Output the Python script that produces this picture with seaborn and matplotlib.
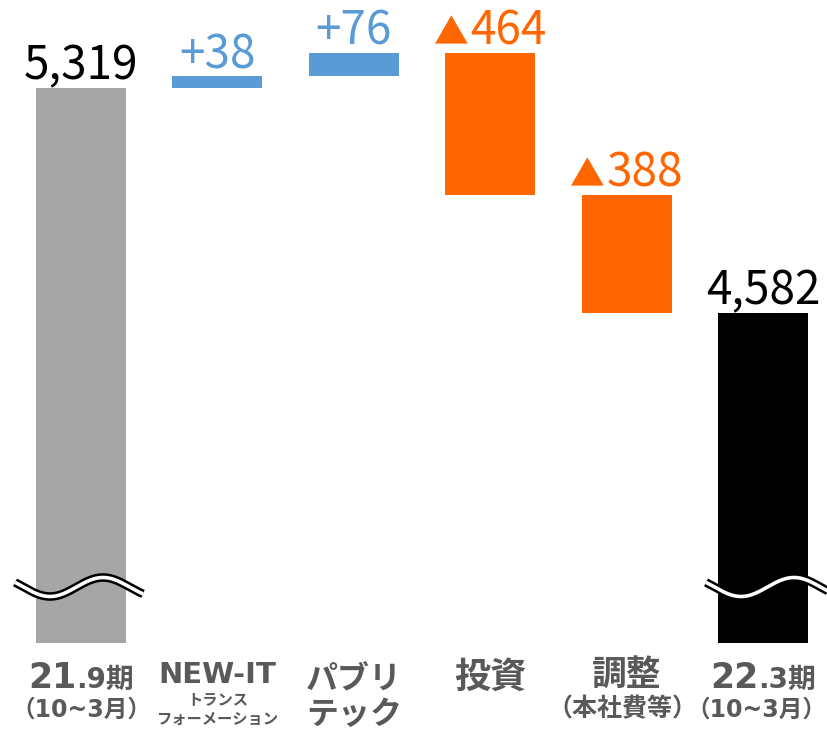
import numpy as np
import pandas as pd
import matplotlib
matplotlib.use("Agg")
import matplotlib.pyplot as plt
import seaborn as sns

# ---- data ----
categories = ["21.9期", "NEW-IT", "パブリテック", "投資", "調整", "22.3期"]
start_total = 5319
changes = [38, 76, -464, -388]
end_total = 4582
axis_base = 3500  # broken axis base

bar_colors = ["#A6A6A6", "#5B9BD5", "#5B9BD5", "#FF6600", "#FF6600", "#000000"]
label_colors = ["#000000", "#5B9BD5", "#5B9BD5", "#FF6600", "#FF6600", "#000000"]

# bottom tick labels: list of lines, each line list of (text, size)
tick_lines = [
    [[("21", 25), (".9期", 20)], [("（10~3月）", 17)]],
    [[("NEW-IT", 21)], [("トランス", 11)], [("フォーメーション", 11)]],
    [[("パブリ", 23)], [("テック", 23)]],
    [[("投資", 26)]],
    [[("調整", 25)], [("（本社費等）", 18)]],
    [[("22", 25), (".3期", 20)], [("（10~3月）", 17)]],
]
tick_baselines = [
    [688, 717],
    [683, 704, 724],
    [689, 724],
    [688],
    [685, 716],
    [688, 717],
]
tick_xshift = [
    [0, 0],
    [0, 0, 0],
    [0, 0],
    [0],
    [0, -4],
    [0, -7],
]

# ---- derived bars ----
bottoms, heights, tops, labels = [], [], [], []
bottoms.append(axis_base); heights.append(start_total - axis_base)
tops.append(start_total); labels.append(("", f"{start_total:,}"))
cum = start_total
for c in changes:
    if c >= 0:
        bottoms.append(cum); heights.append(c); tops.append(cum + c)
        labels.append(("", f"+{c}"))
    else:
        bottoms.append(cum + c); heights.append(-c); tops.append(cum)
        labels.append(("▲", f"{-c}"))
    cum += c
bottoms.append(axis_base); heights.append(end_total - axis_base)
tops.append(end_total); labels.append(("", f"{end_total:,}"))

df = pd.DataFrame({"cat": categories, "h": heights})

sns.set_theme(style="white")
plt.rcParams["font.family"] = ["Noto Sans CJK JP", "DejaVu Sans"]

W, H = 828, 730
fig = plt.figure(figsize=(W / 100, H / 100), dpi=100)
ax = fig.add_axes([0, 1 - 643 / H, 1, 643 / H])

sns.barplot(data=df, x="cat", y="h", bottom=bottoms, width=0.66, ax=ax,
            order=categories, errorbar=None, color=bar_colors[0], saturation=1)
for p, c in zip(ax.patches, bar_colors):
    p.set_facecolor(c)
    p.set_edgecolor("none")

px_per_unit = 225 / 737
ax.set_ylim(axis_base, axis_base + 643 / px_per_unit)
spacing = (763 - 81) / 5
ax.set_xlim(-81 / spacing, (W - 81) / spacing)
ax.axis("off")

# break waves on total bars
def wave(i, shift):
    dx = np.linspace(-66, 62, 200)
    ypx = 587 - 9.5 * np.cos(2 * np.pi * (dx - 22) / 106)
    xd = i + (dx + shift) / spacing
    yd = axis_base + (643 - ypx) / px_per_unit
    ax.plot(xd, yd, color="black", lw=6.2, clip_on=False, solid_capstyle="butt", zorder=5)
    ax.plot(xd, yd, color="white", lw=2.6, clip_on=False, solid_capstyle="butt", zorder=6)

wave(0, 0)
wave(5, 9)

fig.canvas.draw()
renderer = fig.canvas.get_renderer()


def place_group(cx, ydisp, parts, color, weight, fam, gaps=None):
    texts = []
    for s, sz in parts:
        t = fig.text(0, 0, s, fontsize=sz, fontweight=weight, color=color,
                     family=fam, ha="left", va="baseline", transform=None)
        texts.append(t)
    widths = [t.get_window_extent(renderer).width for t in texts]
    if gaps is None:
        gaps = [0] * len(texts)
    total = sum(widths) + sum(gaps[:-1]) if len(texts) > 1 else widths[0]
    x = cx - total / 2
    for t, w, g in zip(texts, widths, gaps):
        t.set_position((x, ydisp))
        x += w + g


# value labels
num_fam = ["Noto Sans CJK JP", "DejaVu Sans"]
for i, (t, (pre, num), col) in enumerate(zip(tops, labels, label_colors)):
    cx, cy = ax.transData.transform((i, t))
    ydisp = cy + 8
    if pre:
        place_group(cx, ydisp, [(pre, 25), (num, 33)], col, "normal", num_fam, gaps=[2, 0])
    else:
        place_group(cx, ydisp, [(num, 33)], col, "normal", num_fam)

# bottom category labels
tick_color = "#595959"
fam = ["DejaVu Sans", "Noto Sans CJK JP"]
for i, (lines, bls, shs) in enumerate(zip(tick_lines, tick_baselines, tick_xshift)):
    cx = ax.transData.transform((i, axis_base))[0]
    for parts, bl, sh in zip(lines, bls, shs):
        place_group(cx + sh, H - bl, parts, tick_color, "bold", fam)

fig.savefig("out.png", dpi=100)
